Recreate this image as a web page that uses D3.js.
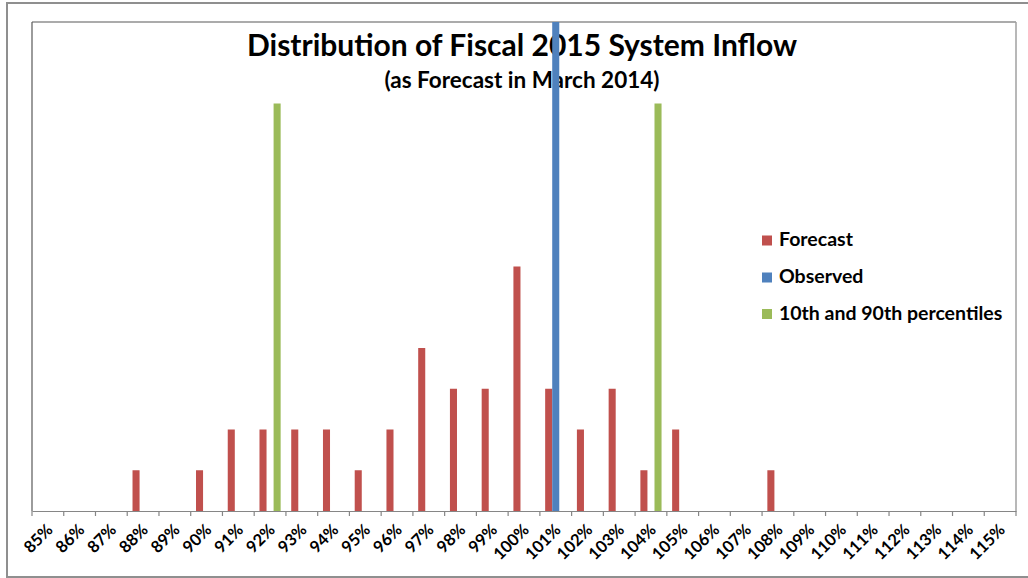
<!DOCTYPE html>
<html>
<head>
<meta charset="utf-8">
<script src="https://cdn.jsdelivr.net/npm/d3@7"></script>
<style>
  html, body { margin: 0; padding: 0; background: #fff; }
  svg { display: block; font-family: Lato, "Open Sans", sans-serif; }
</style>
</head>
<body>
<svg id="chart" width="1028" height="578"></svg>
<script>
// Inflow as a percentage of normal (category axis)
const categories = ["85%", "86%", "87%", "88%", "89%", "90%", "91%", "92%", "93%", "94%",
  "95%", "96%", "97%", "98%", "99%", "100%", "101%", "102%", "103%", "104%",
  "105%", "106%", "107%", "108%", "109%", "110%", "111%", "112%", "113%", "114%", "115%"];

// Number of forecast traces falling in each bin
const forecast = [0, 0, 0, 1, 0, 1, 2, 2, 2, 2,
  1, 2, 4, 3, 3, 6, 3, 2, 3, 1,
  2, 0, 0, 1, 0, 0, 0, 0, 0, 0, 0];

// Observed inflow marker (full height of the value axis)
const observed = [0, 0, 0, 0, 0, 0, 0, 0, 0, 0,
  0, 0, 0, 0, 0, 0, 12, 0, 0, 0,
  0, 0, 0, 0, 0, 0, 0, 0, 0, 0, 0];

// 10th and 90th percentile markers
const percentiles = [0, 0, 0, 0, 0, 0, 0, 10, 0, 0,
  0, 0, 0, 0, 0, 0, 0, 0, 0, 10,
  0, 0, 0, 0, 0, 0, 0, 0, 0, 0, 0];

const seriesNames = ["Forecast", "Observed", "10th and 90th percentiles"];
const valueMax = 12;

const titleText = "Distribution of Fiscal 2015 System Inflow";
const subtitleText = "(as Forecast in March 2014)";

// ---- layout ----
const plot = { left: 32, top: 22, right: 1016, bottom: 511 };
const colors = ["#C0504D", "#4F81BD", "#9BBB59"];
const seriesValues = [forecast, observed, percentiles];

const svg = d3.select("#chart");

// chart frame
svg.append("rect")
  .attr("x", 7).attr("y", 3)
  .attr("width", 1060).attr("height", 574)
  .attr("fill", "#fff")
  .attr("stroke", "#8f8f8f")
  .attr("stroke-width", 2);

const x = d3.scaleBand()
  .domain(categories)
  .range([plot.left, plot.right])
  .paddingInner(0).paddingOuter(0);

// three series side by side inside each category, 50% gap width
const xs = d3.scaleBand()
  .domain(seriesNames)
  .range([0, x.bandwidth()])
  .paddingInner(0).paddingOuter(0.75);

const y = d3.scaleLinear()
  .domain([0, valueMax])
  .range([plot.bottom, plot.top]);

// plot area border
svg.append("line")
  .attr("x1", plot.left).attr("x2", plot.right)
  .attr("y1", plot.top).attr("y2", plot.top)
  .attr("stroke", "#595959").attr("stroke-width", 1.2);
svg.append("line")
  .attr("x1", plot.left).attr("x2", plot.left)
  .attr("y1", plot.top).attr("y2", plot.bottom)
  .attr("stroke", "#595959").attr("stroke-width", 1.2);
svg.append("line")
  .attr("x1", plot.right).attr("x2", plot.right)
  .attr("y1", plot.top).attr("y2", plot.bottom)
  .attr("stroke", "#a0a0a0").attr("stroke-width", 1.5);

// titles
svg.append("text")
  .attr("x", 522).attr("y", 56)
  .attr("text-anchor", "middle")
  .attr("font-size", 30).attr("font-weight", "bold")
  .attr("fill", "#000")
  .text(titleText);
svg.append("text")
  .attr("x", 522).attr("y", 88)
  .attr("text-anchor", "middle")
  .attr("font-size", 22.5).attr("font-weight", "bold")
  .attr("fill", "#000")
  .text(subtitleText);

// bars
seriesNames.forEach((name, i) => {
  const rows = categories
    .map((c, j) => ({ c, v: seriesValues[i][j] }))
    .filter(d => d.v > 0);
  svg.append("g")
    .attr("class", "series")
    .selectAll("rect")
    .data(rows)
    .join("rect")
    .attr("x", d => x(d.c) + xs(name))
    .attr("y", d => y(d.v))
    .attr("width", xs.bandwidth())
    .attr("height", d => y(0) - y(d.v))
    .attr("fill", colors[i]);
});

// category axis: labels centred on each category
const axis = svg.append("g")
  .attr("transform", `translate(0,${plot.bottom})`)
  .call(d3.axisBottom(x).tickSize(0).tickSizeOuter(0));
axis.select(".domain").attr("stroke", "#868686").attr("stroke-width", 1.2);
axis.selectAll(".tick text")
  .attr("x", 6).attr("y", 20).attr("dy", 0)
  .attr("text-anchor", "end")
  .attr("transform", "rotate(-45,6,20)")
  .attr("font-family", "Lato, sans-serif")
  .attr("font-size", 16.5).attr("font-weight", "bold")
  .attr("fill", "#000");

// tick marks between categories
const boundaries = categories.map(c => x(c)).concat([x.range()[1]]);
svg.append("g")
  .selectAll("line")
  .data(boundaries)
  .join("line")
  .attr("x1", d => d).attr("x2", d => d)
  .attr("y1", plot.bottom).attr("y2", plot.bottom + 5)
  .attr("stroke", "#868686").attr("stroke-width", 1.2);

// legend
const legend = svg.append("g").attr("transform", "translate(762,0)");
const legendBaselines = [246, 283, 319.5];
seriesNames.forEach((name, i) => {
  legend.append("rect")
    .attr("x", 0).attr("y", legendBaselines[i] - 10.5)
    .attr("width", 10).attr("height", 10)
    .attr("fill", colors[i]);
  legend.append("text")
    .attr("x", 17).attr("y", legendBaselines[i])
    .attr("font-size", 19.5).attr("font-weight", "bold")
    .attr("fill", "#000")
    .text(name);
});
</script>
</body>
</html>
